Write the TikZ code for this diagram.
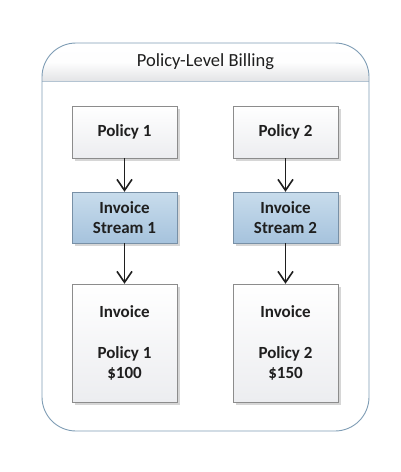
\documentclass[tikz,border=0pt]{standalone}
\usepackage{fontspec}
\setmainfont{Carlito}
\usetikzlibrary{arrows.meta,shadows}
\definecolor{frame}{HTML}{7F9DB5}
\definecolor{divline}{HTML}{B4C4D2}
\definecolor{hdr}{HTML}{E3E4E6}
\definecolor{boxline}{HTML}{8C8C8C}
\definecolor{boxbot}{HTML}{ECEDF0}
\definecolor{bluetop}{HTML}{C8DCEC}
\definecolor{bluebot}{HTML}{A6C3DD}
\definecolor{blueline}{HTML}{7890A6}
\definecolor{shadowc}{HTML}{D6D6D6}
\begin{document}
\begin{tikzpicture}[x=1pt,y=-1pt,
  basebox/.style={rectangle, minimum width=105pt, align=center, inner sep=0pt,
    font=\fontsize{17}{20.5}\selectfont\bfseries, text=black!88,
    drop shadow={shadow xshift=3pt, shadow yshift=-3pt, fill=shadowc, opacity=1}},
  whitebox/.style={basebox, draw=boxline, top color=white, bottom color=boxbot},
  bluebox/.style={basebox, draw=blueline, top color=bluetop, bottom color=bluebot},
  arr/.style={-{Straight Barb[length=11pt,width=15pt]}, line width=1.6pt, black!88},
  titletext/.style={font=\fontsize{18.5}{22}\selectfont, text=black!88}]
\useasboundingbox (0,0) rectangle (400,472);
% container
\fill[white, rounded corners=34pt] (42,43) rectangle (369,431);
\begin{scope}
  \clip[rounded corners=34pt] (42,43) rectangle (369,431);
  \shade[top color=white, bottom color=hdr, middle color=white!96!hdr] (42,43) rectangle (369,81);
\end{scope}
\draw[divline, line width=1pt] (42,81) -- (369,81);
\draw[frame, line width=0.9pt, rounded corners=34pt] (42,43) rectangle (369,431);
\node[titletext] (title) at (205.5,62) {Policy-Level Billing};
% boxes
\node[whitebox, minimum height=52pt] (p1) at (124.5,132) {Policy 1};
\node[whitebox, minimum height=52pt] (p2) at (285.5,132) {Policy 2};
\node[bluebox, minimum height=51pt] (s1) at (124.5,217.5) {Invoice\\Stream 1};
\node[bluebox, minimum height=51pt] (s2) at (285.5,217.5) {Invoice\\Stream 2};
\node[whitebox, minimum height=118pt] (i1) at (124.5,343) {Invoice\\[20.5pt]Policy 1\\\$100};
\node[whitebox, minimum height=118pt] (i2) at (285.5,343) {Invoice\\[20.5pt]Policy 2\\\$150};
% arrows
\draw[arr] (p1) -- (s1);
\draw[arr] (s1) -- (i1);
\draw[arr] (p2) -- (s2);
\draw[arr] (s2) -- (i2);
\end{tikzpicture}
\end{document}
